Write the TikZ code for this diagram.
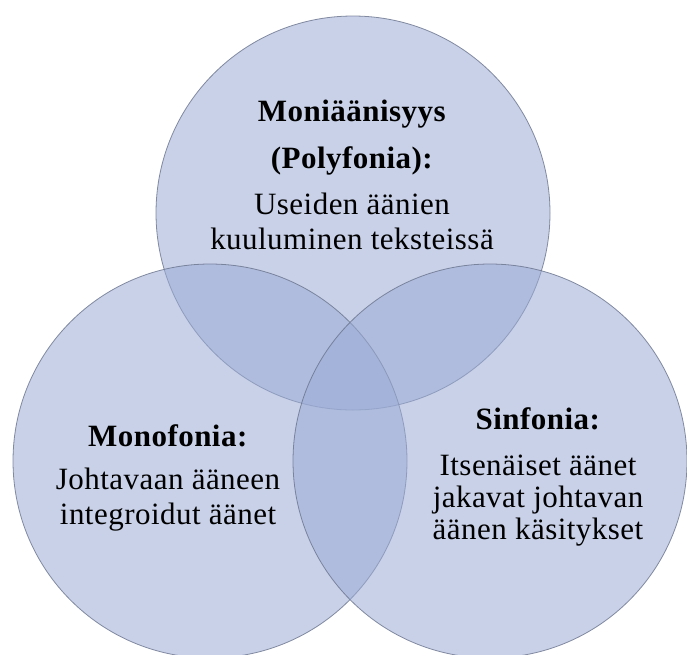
\documentclass[tikz,border=0pt]{standalone}
\usepackage{fontspec}
\setmainfont{Liberation Serif}[LetterSpace=1.5]
\usepackage{tikz}
\definecolor{bulle}{RGB}{155,171,213}
\definecolor{bord}{RGB}{105,115,140}
\tikzset{bubble/.style={circle,fill=bulle,fill opacity=0.55,draw=bord,draw opacity=0.8,line width=0.8pt,inner sep=0pt,minimum size=394pt},
  legend/.style={align=center,anchor=base,font=\fontsize{31}{35}\selectfont,text=black}}

\begin{document}
\begin{tikzpicture}[x=1pt,y=-1pt]
\useasboundingbox (0,0) rectangle (687,654);
\clip (0,0) rectangle (687,654);
\node [bubble] (poly) at (353,213) {};
\node [bubble] (mono) at (210,461) {};
\node [bubble] (sinf) at (490,461) {};
\node [legend] (tpoly) at (352,249) {\textbf{Moniäänisyys}\\[12pt]\textbf{(Polyfonia):}\\[11pt]Useiden äänien\\kuuluminen teksteissä};
\node [legend] (tmono) at (168,524) {\textbf{Monofonia:}\\[8pt]Johtavaan ääneen\\integroidut äänet};
\node [legend] (tsinf) at (538,539) {\textbf{Sinfonia:}\\[11pt]Itsenäiset äänet\\[-3pt]jakavat johtavan\\[-3pt]äänen käsitykset};
\end{tikzpicture}
\end{document}
